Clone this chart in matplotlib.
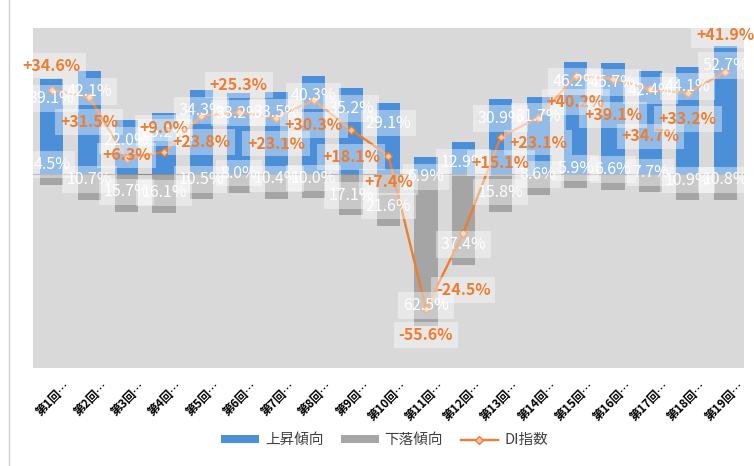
import matplotlib.pyplot as plt
import numpy as np
from matplotlib.lines import Line2D
from matplotlib.transforms import ScaledTranslation

plt.rcParams['font.family'] = ['Noto Sans CJK JP', 'DejaVu Sans']

labels = [f"第{i}回…" for i in range(1, 20)]
up = [39.1, 42.1, 22.0, 25.2, 34.3, 33.2, 33.5, 40.3, 35.2, 29.1,
      6.9, 12.9, 30.9, 31.7, 46.2, 45.7, 42.4, 44.1, 52.7]
down = [4.5, 10.7, 15.7, 16.1, 10.5, 8.0, 10.4, 10.0, 17.1, 21.6,
        62.5, 37.4, 15.8, 8.6, 5.9, 6.6, 7.7, 10.9, 10.8]
di = [34.6, 31.5, 6.3, 9.0, 23.8, 25.3, 23.1, 30.3, 18.1, 7.4,
      -55.6, -24.5, 15.1, 23.1, 40.2, 39.1, 34.7, 33.2, 41.9]

# where excel put the DI labels (pixels below the point, negative = above)
di_label_dy = [-24, 25, -3, -24, 26, -27, 26, 25, 27, 26,
               26, 57, 26, 25, 26, 36, 47, 26, -37]

BLUE = '#4a8fd8'
GRAY = '#a5a5a5'
ORANGE = '#ed7d31'

fig = plt.figure(figsize=(7.54, 4.66), dpi=100)
ax = fig.add_axes([0.0438, 0.2103, 0.9429, 0.7296])
ax.set_facecolor('#d9d9d9')

x = np.arange(len(labels))
b1 = ax.bar(x, up, width=0.62, color=BLUE, zorder=2, label='上昇傾向')
b2 = ax.bar(x, [-d for d in down], width=0.62, color=GRAY, zorder=2, label='下落傾向')
ax.axhline(0, color='#8c8c8c', lw=0.8, zorder=3)
ln, = ax.plot(x, di, color=ORANGE, lw=1.7, marker='D', ms=4.5, mfc='#f6c7a4',
              mec=ORANGE, mew=1.0, zorder=4, label='DI指数')

box = dict(boxstyle='square,pad=0.3', fc='white', ec='none', alpha=0.4)
for i in range(len(x)):
    ax.annotate(f"{up[i]:.1f}%", (x[i], up[i]), xytext=(0, -14.4),
                textcoords='offset points', ha='center', va='center',
                color='white', fontsize=11.5, bbox=box, zorder=5)
    ax.annotate(f"{down[i]:.1f}%", (x[i], -down[i]), xytext=(0, 14.4),
                textcoords='offset points', ha='center', va='center',
                color='white', fontsize=11.5, bbox=box, zorder=5)
for i in range(len(x)):
    sign = '+' if di[i] > 0 else ''
    ax.annotate(f"{sign}{di[i]:.1f}%", (x[i], di[i]),
                xytext=(0, -di_label_dy[i] * 0.72), textcoords='offset points',
                ha='center', va='center', color=ORANGE, fontsize=11.5,
                fontweight='bold', bbox=box, zorder=6)

ax.set_xlim(-0.5, len(x) - 0.5)
ax.set_ylim(-80, 60)
ax.set_yticks([])
ax.set_xticks(x)
ax.set_xticklabels(labels, rotation=45, ha='right', rotation_mode='anchor',
                   fontsize=8.5, fontweight='bold', color='black')
ax.tick_params(axis='x', length=0, pad=8)
shift = ScaledTranslation(9 / 72, 0, fig.dpi_scale_trans)
for t in ax.get_xticklabels():
    t.set_transform(t.get_transform() + shift)
for s in ax.spines.values():
    s.set_visible(False)

fig.legend(handles=[b1, b2, ln], loc='center', bbox_to_anchor=(0.51, 0.055),
           ncol=3, frameon=False, fontsize=10.5, handlelength=2.6,
           handleheight=0.4, handletextpad=0.4, columnspacing=1.2,
           labelcolor='#404040')

fig.add_artist(Line2D([8.5 / 754, 8.5 / 754], [0, 1], color='#d0d0d0', lw=1))

fig.savefig('out.png', dpi=100)
